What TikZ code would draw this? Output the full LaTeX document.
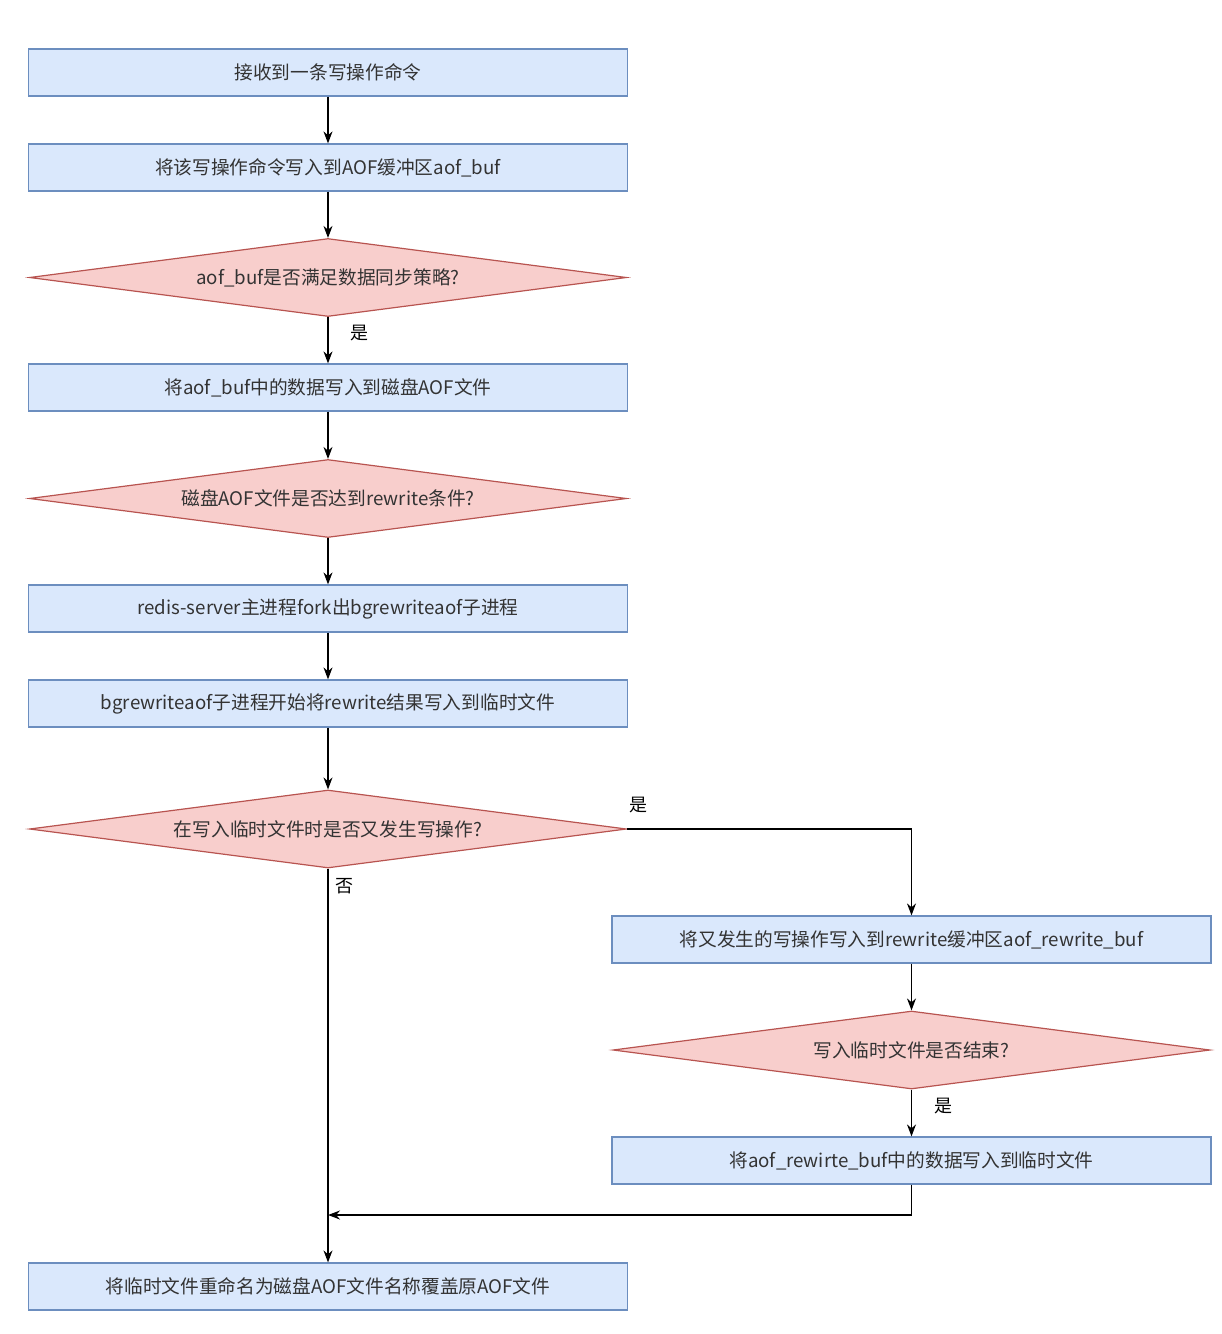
\documentclass[tikz,border=0pt]{standalone}
\usepackage{fontspec}
\setmainfont{Noto Sans CJK SC}
\usetikzlibrary{shapes.geometric,arrows.meta}
\definecolor{boxfill}{HTML}{DAE8FC}
\definecolor{boxline}{HTML}{6C8EBF}
\definecolor{dfill}{HTML}{F8CECC}
\definecolor{dline}{HTML}{B85450}
\definecolor{txt}{HTML}{333333}
\tikzset{
  stepbox/.style={draw=boxline, fill=boxfill, line width=1.2pt, rectangle,
    minimum width=599pt, minimum height=47pt, inner sep=0pt, text=txt,
    font=\fontsize{18.7}{22}\selectfont},
  decide/.style={draw=dline, fill=dfill, line width=1.2pt, diamond, aspect=7.6,
    minimum width=597pt, minimum height=78pt, inner sep=0pt},
  dtext/.style={text=txt, font=\fontsize{18.7}{22}\selectfont},
  conn/.style={draw=black, line width=1.3pt, -{Stealth[length=12pt,width=9pt]}},
  lbl/.style={text=black, font=\fontsize{18}{20}\selectfont, inner sep=0pt}
}
\begin{document}
\begin{tikzpicture}[x=1pt,y=-1pt]
\useasboundingbox (0,0) rectangle (1222,1334);
\node[stepbox] (b1) at (328,72.5) {接收到一条写操作命令};
\node[stepbox] (b2) at (328,167.5) {将该写操作命令写入到AOF缓冲区aof\_buf};
\node[decide] (d1) at (328,277.5) {};
\node[dtext] at (d1.center) {aof\_buf是否满足数据同步策略?};
\node[stepbox] (b3) at (328,387.5) {将aof\_buf中的数据写入到磁盘AOF文件};
\node[decide] (d2) at (328,498.5) {};
\node[dtext] at (d2.center) {磁盘AOF文件是否达到rewrite条件?};
\node[stepbox] (b4) at (328,608.5) {redis-server主进程fork出bgrewriteaof子进程};
\node[stepbox] (b5) at (328,703.5) {bgrewriteaof子进程开始将rewrite结果写入到临时文件};
\node[decide] (d3) at (328,829) {};
\node[dtext] at (d3.center) {在写入临时文件时是否又发生写操作?};
\node[stepbox] (b6) at (911.5,939.5) {将又发生的写操作写入到rewrite缓冲区aof\_rewrite\_buf};
\node[decide] (d4) at (911.5,1050) {};
\node[dtext] at (d4.center) {写入临时文件是否结束?};
\node[stepbox] (b7) at (911.5,1160.5) {将aof\_rewirte\_buf中的数据写入到临时文件};
\node[stepbox] (b8) at (328,1286.5) {将临时文件重命名为磁盘AOF文件名称覆盖原AOF文件};
\coordinate (m) at (328,1215);
\draw[conn] (b1) -- (b2);
\draw[conn] (b2) -- (d1);
\draw[conn] (d1) -- node[lbl, right=22pt, pos=0.35] {是} (b3);
\draw[conn] (b3) -- (d2);
\draw[conn] (d2) -- (b4);
\draw[conn] (b4) -- (b5);
\draw[conn] (b5) -- (d3);
\draw[conn] (d3.east) -| node[lbl, pos=0.02, above=15pt] {是} (b6.north);
\draw[conn] (d3.south) -- node[lbl, pos=0.045, right=7pt] {否} (b8.north);
\draw[conn] (b6) -- (d4);
\draw[conn] (d4) -- node[lbl, right=22pt, pos=0.35] {是} (b7);
\draw[conn] (b7.south) |- (m);
\end{tikzpicture}
\end{document}
